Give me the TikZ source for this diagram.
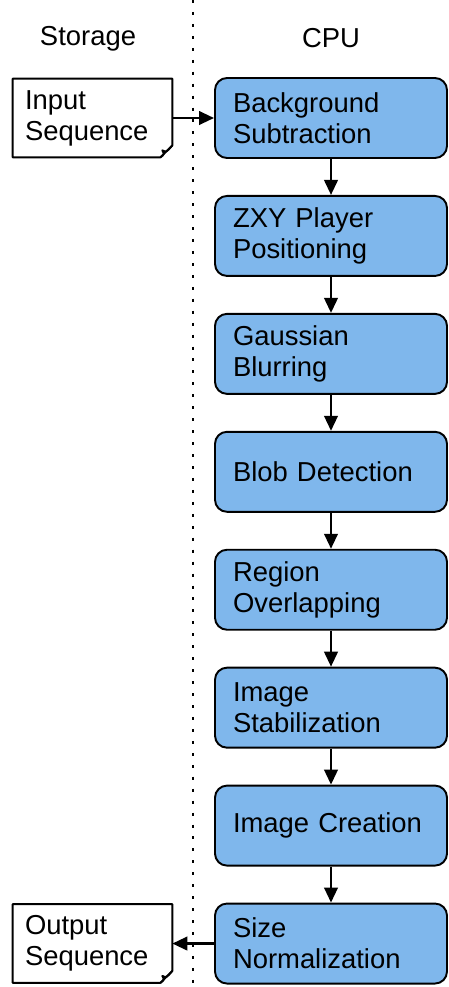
\documentclass[tikz,border=0pt]{standalone}
\usepackage{fontspec}
\setmainfont{Liberation Sans}
\usetikzlibrary{shapes, arrows.meta, positioning, calc}
\definecolor{stageblue}{RGB}{127, 183, 236}

\begin{document}
\begin{tikzpicture}[
  node distance=0.72cm,
  stage/.style={rectangle, rounded corners=0.24cm, draw=black, fill=stageblue, line width=1.1pt,
                minimum width=4.64cm, minimum height=1.6cm, text width=3.92cm, inner xsep=0.36cm,
                align=left, font=\fontsize{15.6}{17.6}\selectfont},
  docu/.style={rectangle, minimum width=3.18cm, minimum height=1.56cm, text width=2.7cm,
               inner xsep=0.24cm, align=left, font=\fontsize{15.6}{17.6}\selectfont},
  header/.style={font=\fontsize{15.6}{17.6}\selectfont},
  arr/.style={-{Triangle[length=0.3cm, width=0.27cm]}, line width=1.4pt}
]
  \useasboundingbox (0,0) rectangle (8.98,-19.74);
  % columns
  \node[header] (storage) at (1.76,-0.77) {Storage};
  \node[header] (cpu) at (6.62,-0.77) {CPU};
  \coordinate (divtop) at (3.86,0);
  \coordinate (divbot) at (3.86,-19.74);
  \draw[line width=1.7pt, dash pattern=on 1.7pt off 5.1pt] (divtop) -- (divbot);
  % processing stages
  \node[stage] (bgsub) at (6.62,-2.36) {Background\\Subtraction};
  \node[stage, below=of bgsub] (zxy) {ZXY Player\\Positioning};
  \node[stage, below=of zxy] (blur) {Gaussian\\Blurring};
  \node[stage, below=of blur] (blob) {Blob Detection};
  \node[stage, below=of blob] (overlap) {Region\\Overlapping};
  \node[stage, below=of overlap] (stab) {Image\\Stabilization};
  \node[stage, below=of stab] (create) {Image Creation};
  \node[stage, below=of create] (norm) {Size\\Normalization};
  % storage documents
  \node[docu] (input) at (1.85,-2.36) {Input\\Sequence};
  \node[docu] (output) at (input |- norm) {Output\\Sequence};
  \foreach \d in {input, output} {
    \draw[line width=1.1pt, line join=round]
      (\d.north west) -- (\d.north east) -- ($(\d.south east)+(0,0.24)$)
      -- ($(\d.south east)+(-0.24,0)$) -- (\d.south west) -- cycle;
    \draw[line width=1.1pt, line join=round]
      ($(\d.south east)+(0,0.24)$) .. controls ($(\d.south east)+(-0.12,0.1)$) .. ($(\d.south east)+(-0.2,0.14)$)
      .. controls ($(\d.south east)+(-0.16,0.06)$) .. ($(\d.south east)+(-0.24,0)$);
  }
  % connections
  \draw[arr] (input) -- (bgsub);
  \draw[arr] (bgsub) -- (zxy);
  \draw[arr] (zxy) -- (blur);
  \draw[arr] (blur) -- (blob);
  \draw[arr] (blob) -- (overlap);
  \draw[arr] (overlap) -- (stab);
  \draw[arr] (stab) -- (create);
  \draw[arr] (create) -- (norm);
  \draw[arr] (norm) -- (output);
\end{tikzpicture}
\end{document}
